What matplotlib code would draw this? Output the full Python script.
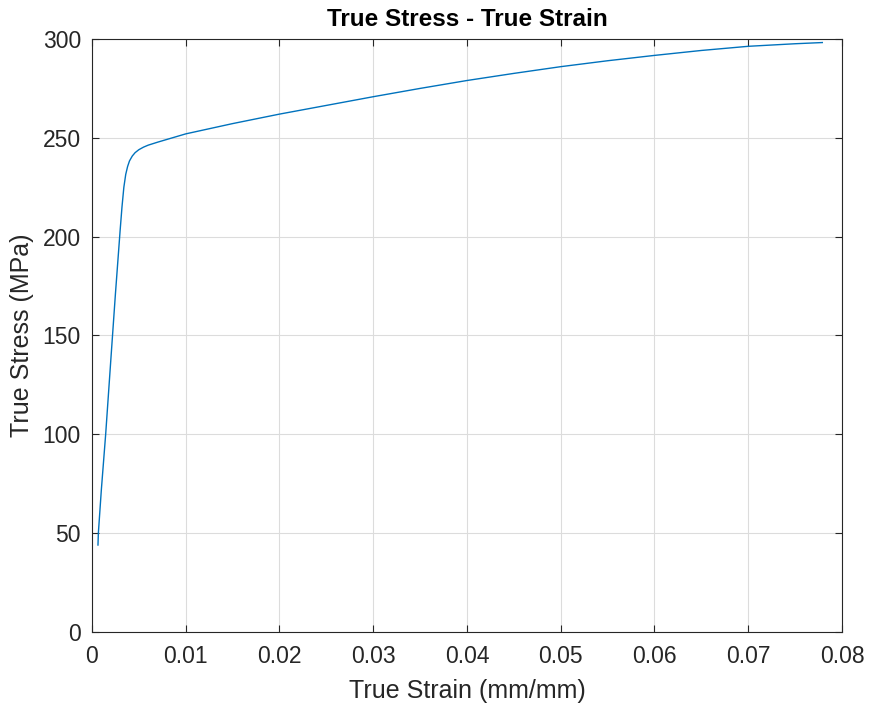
import numpy as np
import matplotlib.pyplot as plt

plt.rcParams['font.family'] = ['Liberation Sans', 'DejaVu Sans']

# True strain (mm/mm) and true stress (MPa)
strain = [0.00064, 0.00068, 0.00100, 0.00146, 0.0020, 0.0025, 0.0030, 0.0032,
          0.0034, 0.0036, 0.0038, 0.0040, 0.0043, 0.0046, 0.0050, 0.0055,
          0.0060, 0.0070, 0.0080, 0.0090, 0.0100, 0.0150, 0.0200, 0.0250,
          0.0300, 0.0350, 0.0400, 0.0450, 0.0500, 0.0550, 0.0600, 0.0650,
          0.0700, 0.0750, 0.0779]
stress = [44, 50, 72, 100, 137, 171, 203, 215,
          225, 231.5, 235.5, 238.3, 240.8, 242.5, 244.0, 245.3,
          246.3, 247.8, 249.2, 250.6, 252.0, 257.2, 262.0, 266.4,
          270.8, 275.0, 279.0, 282.6, 286.0, 289.0, 291.7, 294.2,
          296.3, 297.6, 298.2]

fig = plt.figure(figsize=(8.71, 7.09), dpi=100)
ax = fig.add_axes([0.1056, 0.1086, 0.8611, 0.8364])
ax.plot(strain, stress, color='#0072BD', linewidth=1.0)

ax.set_xlim(0, 0.08)
ax.set_ylim(0, 300)
ax.set_xticks(np.arange(0, 0.081, 0.01))
ax.set_xticklabels(['0', '0.01', '0.02', '0.03', '0.04', '0.05', '0.06', '0.07', '0.08'])
ax.set_yticks(np.arange(0, 301, 50))
ax.grid(True, color='#dcdcdc', linewidth=0.8)
ax.tick_params(direction='in', length=5, labelsize=16.5, colors='#262626',
               top=True, right=True)
ax.tick_params(axis='x', pad=9)
ax.tick_params(axis='y', pad=8)
for s in ax.spines.values():
    s.set_color('#262626')
    s.set_linewidth(0.8)

ax.set_title('True Stress - True Strain', fontsize=17.5, fontweight='bold', pad=9)
ax.set_xlabel('True Strain (mm/mm)', fontsize=18, color='#262626', labelpad=8)
ax.set_ylabel('True Stress (MPa)', fontsize=18, color='#262626', labelpad=6)

fig.savefig('out.png', dpi=100)
